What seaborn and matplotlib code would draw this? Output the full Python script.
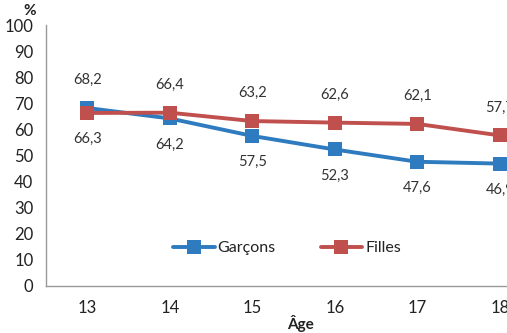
import matplotlib
matplotlib.use("Agg")
import matplotlib.pyplot as plt
import seaborn as sns
import pandas as pd

ages = ["13", "14", "15", "16", "17", "18"]
garcons = [68.2, 64.2, 57.5, 52.3, 47.6, 46.9]
filles = [66.3, 66.4, 63.2, 62.6, 62.1, 57.7]
series_names = ["Garçons", "Filles"]
colors = ["#2E7BBF", "#C0504D"]

sns.set_style("white")
plt.rcParams["font.family"] = ["Lato", "DejaVu Sans"]

rows = []
for name, vals in zip(series_names, [garcons, filles]):
    for i, v in enumerate(vals):
        rows.append({"pos": i, "Âge": ages[i], "valeur": v, "serie": name})
df = pd.DataFrame(rows)

fig = plt.figure(figsize=(5.07, 3.33), dpi=100)
ax = fig.add_axes([46 / 507, 1 - 286 / 333, 495 / 507, 261 / 333])

sns.lineplot(data=df, x="pos", y="valeur", hue="serie", hue_order=series_names,
             palette=colors, marker="s", markersize=9.5, markeredgewidth=0,
             linewidth=2.8, ax=ax, legend=True)

ax.set_xlim(-0.5, len(ages) - 0.5)
ax.set_ylim(0, 100)
ax.set_yticks(range(0, 101, 10))
ax.set_xticks(range(len(ages)))
ax.set_xticklabels(ages)
ax.set_xticks([i - 0.5 for i in range(len(ages) + 1)], minor=True)
ax.tick_params(axis="x", which="major", length=0, pad=10, labelsize=12, labelcolor="#222222")
ax.tick_params(axis="x", which="minor", length=5, width=1, color="#999999")
ax.tick_params(axis="y", length=5, width=1, color="#999999", labelsize=12,
               labelcolor="#222222", pad=4)
for side in ["top", "right"]:
    ax.spines[side].set_visible(False)
for side in ["left", "bottom"]:
    ax.spines[side].set_color("#999999")
    ax.spines[side].set_linewidth(1)

ax.set_xlabel("")
ax.set_ylabel("")
fig.text(300 / 507, 1 - 323 / 333, "Âge", ha="center", va="center",
         fontsize=11, fontweight="bold", color="#222222")
fig.text(30 / 507, 1 - 11 / 333, "%", ha="center", va="center",
         fontsize=11, fontweight="bold", color="#222222")

# value labels: higher series above its point, lower one below
for i in range(len(ages)):
    g, f = garcons[i], filles[i]
    for v in (g, f):
        above = v == max(g, f)
        ax.annotate(f"{v:.1f}".replace(".", ","), (i, v),
                    xytext=(0, 20 if above else -19), textcoords="offset points",
                    ha="center", va="center", fontsize=10.5, color="#333333")

leg = ax.legend(loc="center", bbox_to_anchor=(241 / 495, (286 - 248) / 261),
                ncol=2, frameon=False, fontsize=11.5, handlelength=2.6,
                columnspacing=2.8, handletextpad=0.2)
for t in leg.get_texts():
    t.set_color("#222222")

fig.savefig("out.png", dpi=100)
